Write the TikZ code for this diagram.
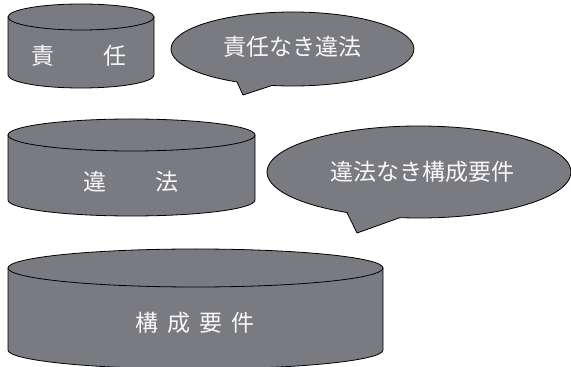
\documentclass[tikz,border=0pt]{standalone}
\usepackage{fontspec}
\newfontfamily\jp{Noto Sans CJK JP}
\definecolor{shade}{RGB}{122,123,128}
\definecolor{ink}{RGB}{248,248,248}
\newcommand{\drawcyl}[5]{% #1 cx, #2 top y, #3 bottom y, #4 rx, #5 ry
  \draw[solid gray] (#1-#4,#2) -- (#1-#4,#3)
    arc[start angle=180,end angle=360,x radius=#4pt,y radius=#5pt]
    -- (#1+#4,#2) -- cycle;
  \draw[solid gray] (#1,#2) ellipse[x radius=#4pt,y radius=#5pt];
}
\begin{document}
\begin{tikzpicture}[x=1pt,y=1pt,
  solid gray/.style={fill=shade,draw=black,line width=0.8pt,line join=round},
  label text/.style={text=ink,font=\jp\fontsize{23}{23}\selectfont,inner sep=0pt}]
\useasboundingbox (0,0) rectangle (571,367);

% cylinders
\drawcyl{81}{350}{292}{73}{13}
\drawcyl{131.5}{232}{167}{123.5}{16}
\drawcyl{195.5}{99}{17}{187.5}{19}

% callout 1
\coordinate (c1) at (292.5,318);
\coordinate (tip1) at (243,272);
\draw[solid gray] (c1) ++(260.3:121.5pt and 37pt)
  arc[start angle=260.3,end angle=602.8,x radius=121.5pt,y radius=37pt]
  -- (tip1) -- cycle;

% callout 2
\coordinate (c2) at (419,195);
\coordinate (tip2) at (357,134);
\draw[solid gray] (c2) ++(262.8:152pt and 46pt)
  arc[start angle=262.8,end angle=601.7,x radius=152pt,y radius=46pt]
  -- (tip2) -- cycle;

% labels
\node[label text] (t1) at (79,311) {責\hspace{50pt}任};
\node[label text] (t2) at (131,185) {違\hspace{50pt}法};
\node[label text] (t3) at (195,44) {構\hspace{9pt}成\hspace{9pt}要\hspace{9pt}件};
\node[label text] (b1) at (292.5,320) {責任なき違法};
\node[label text] (b2) at (422,195) {違法なき構成要件};
\end{tikzpicture}
\end{document}
